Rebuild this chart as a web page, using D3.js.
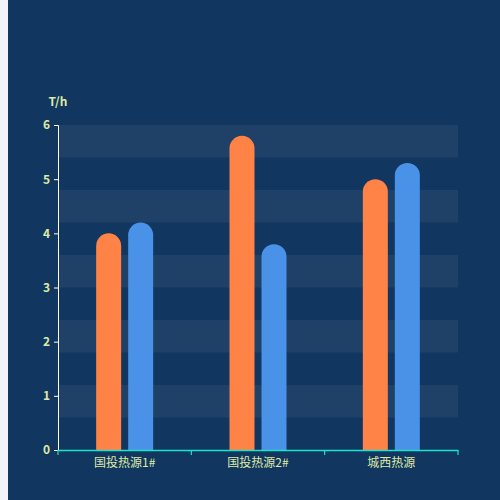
<!DOCTYPE html>
<html>
<head>
<meta charset="utf-8">
<script src="https://cdn.jsdelivr.net/npm/d3@7"></script>
<style>
  html, body { margin: 0; padding: 0; background: #f2f3f8; }
  #chart { position: absolute; left: 8px; top: 0; width: 492px; height: 500px; background: #11365f; }
  text { font-family: "Microsoft YaHei", "Noto Sans CJK SC", sans-serif; }
</style>
</head>
<body>
<div id="chart"></div>
<script>
const categories = ["国投热源1#", "国投热源2#", "城西热源"];
const seriesA = [4.0, 5.8, 5.0];
const seriesB = [4.2, 3.8, 5.3];
const yTicks = [0, 1, 2, 3, 4, 5, 6];
const unit = "T/h";

function draw() {
    const margin = { top: 125, right: 42, bottom: 50, left: 50 };
    const width = 492 - margin.left - margin.right;
    const height = 500 - margin.top - margin.bottom;

    const svg = d3.select("#chart")
        .append("svg")
        .attr("width", 492)
        .attr("height", 500)
        .append("g")
        .attr("transform", `translate(${margin.left},${margin.top})`);

    const x = d3.scaleBand()
        .domain(categories)
        .range([0, width]);

    const y = d3.scaleLinear()
        .domain([0, 6])
        .range([height, 0]);

    // alternating split areas
    const bands = d3.range(0, 6, 0.6);
    svg.append("g")
        .selectAll("rect")
        .data(bands.filter((d, i) => i % 2 === 1))
        .join("rect")
        .attr("x", 0)
        .attr("width", width)
        .attr("y", d => y(d + 0.6))
        .attr("height", d => y(d) - y(d + 0.6))
        .attr("fill", "rgba(255,255,255,0.06)");

    // bars
    const barW = 25, gap = 7;
    const rows = categories.map((c, i) => ({ c, a: seriesA[i], b: seriesB[i] }));
    const bar = (v, cx) => {
        const top = y(v), r = barW / 2;
        const x0 = cx - r, x1 = cx + r;
        return `M${x0},${height} L${x0},${top + r} A${r},${r} 0 0 1 ${x1},${top + r} L${x1},${height} Z`;
    };
    svg.append("g").selectAll("path")
        .data(rows)
        .join("path")
        .attr("d", d => bar(d.a, x(d.c) + x.bandwidth() / 2 - gap / 2 - barW / 2))
        .attr("fill", "#ff8247");
    svg.append("g").selectAll("path")
        .data(rows)
        .join("path")
        .attr("d", d => bar(d.b, x(d.c) + x.bandwidth() / 2 + gap / 2 + barW / 2))
        .attr("fill", "#4a92e8");

    // y axis
    const yAxis = svg.append("g")
        .call(d3.axisLeft(y).tickValues(yTicks).tickFormat(d3.format("d")).tickSize(4).tickPadding(4));
    yAxis.select(".domain").attr("stroke", "#ffffff");
    yAxis.selectAll(".tick line").attr("stroke", "#ffffff");
    yAxis.selectAll("text")
        .attr("fill", "#dfe9a6")
        .style("font-size", "12px")
        .style("font-weight", "bold");

    // x axis
    const xAxis = svg.append("g")
        .attr("transform", `translate(0,${height})`)
        .call(d3.axisBottom(x).tickSize(0).tickPadding(8));
    xAxis.select(".domain").attr("stroke", "#19e6c8").attr("stroke-width", 1.5);
    xAxis.selectAll("text")
        .attr("fill", "#dfe9a6")
        .style("font-size", "12px");
    xAxis.append("g")
        .selectAll("line")
        .data([0, 1, 2, 3])
        .join("line")
        .attr("x1", i => i * x.step())
        .attr("x2", i => i * x.step())
        .attr("y1", 0)
        .attr("y2", 5)
        .attr("stroke", "#19e6c8")
        .attr("stroke-width", 1.2);

    // unit label
    svg.append("text")
        .attr("x", 0)
        .attr("y", -19)
        .attr("text-anchor", "middle")
        .attr("fill", "#dfe9a6")
        .style("font-size", "12px")
        .style("font-weight", "bold")
        .text(unit);
}

draw();
</script>
</body>
</html>
